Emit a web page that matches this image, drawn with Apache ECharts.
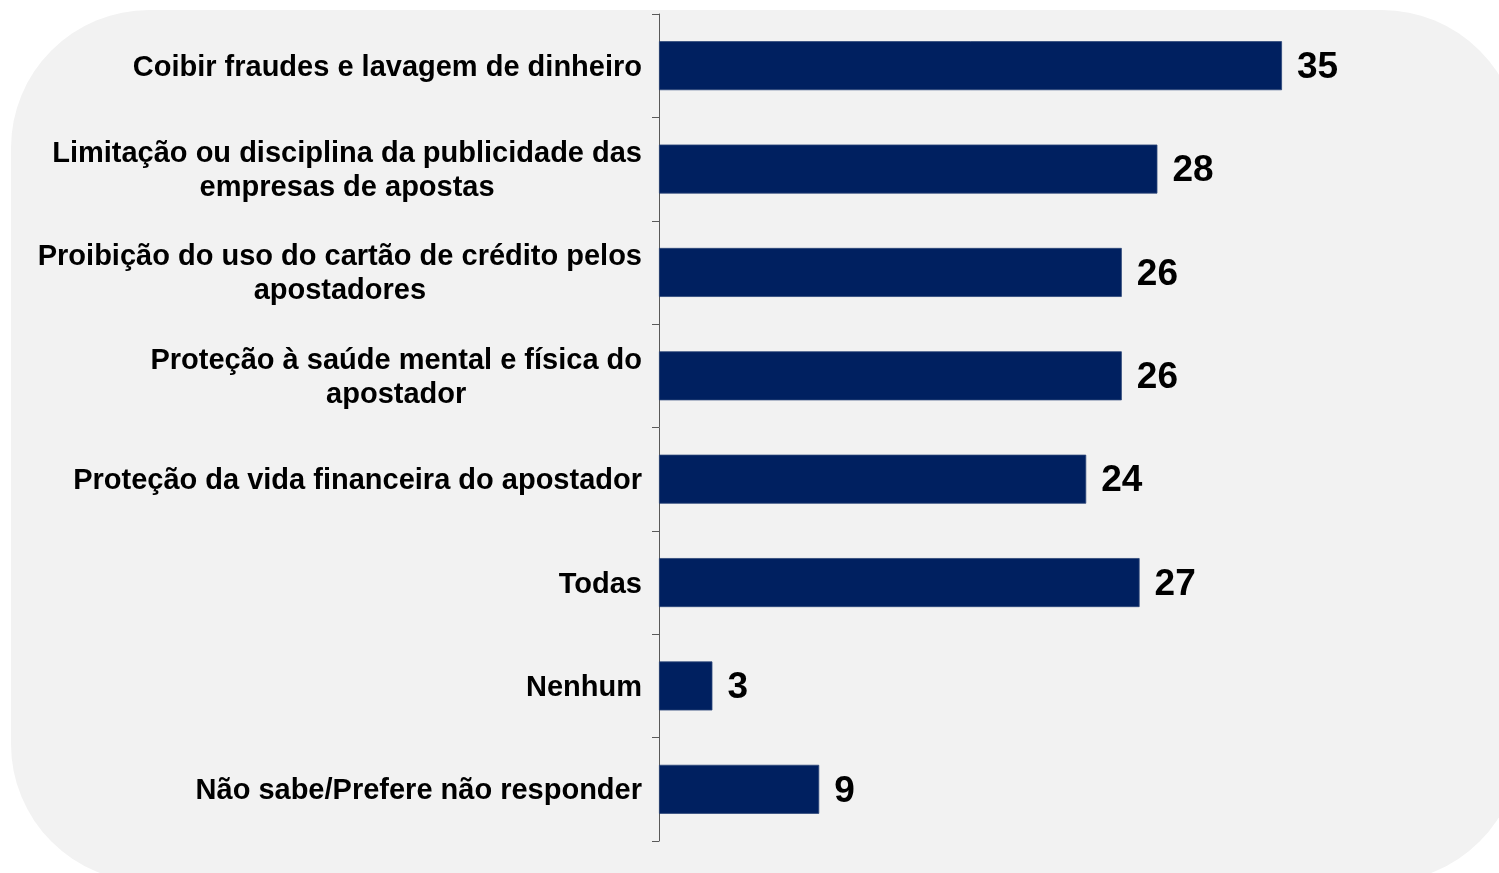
<!DOCTYPE html>
<html lang="pt-BR">
<head>
<meta charset="utf-8">
<title>Medidas de regulação das apostas</title>
<script src="https://cdn.jsdelivr.net/npm/echarts@6/dist/echarts.min.js"></script>
<style>
  html, body { margin: 0; padding: 0; background: #ffffff; }
  #chart { width: 1499px; height: 873px; }
</style>
</head>
<body>
<div id="chart"></div>
<script>
// Categories (top to bottom) and their percentages
const categories = [
  'Coibir fraudes e lavagem de dinheiro',
  'Limitação ou disciplina da publicidade das\nempresas de apostas',
  'Proibição do uso do cartão de crédito pelos\napostadores',
  'Proteção à saúde mental e física do\napostador',
  'Proteção da vida financeira do apostador',
  'Todas',
  'Nenhum',
  'Não sabe/Prefere não responder'
];
const values = [35, 28, 26, 26, 24, 27, 3, 9];

const FONT = '"Liberation Sans", Arial, Helvetica, sans-serif';
const chart = echarts.init(document.getElementById('chart'), null, { renderer: 'canvas' });

chart.setOption({
  animation: false,
  backgroundColor: '#ffffff',
  graphic: [{
    type: 'rect',
    z: -10,
    silent: true,
    shape: { x: 11, y: 10, width: 1509, height: 872, r: 138 },
    style: { fill: '#f2f2f2' }
  }],
  grid: { left: 659, right: 128, top: 14, bottom: 32, containLabel: false },
  xAxis: {
    type: 'value',
    min: 0,
    max: 40,
    show: false
  },
  yAxis: {
    type: 'category',
    inverse: true,
    data: categories,
    axisLine: { show: true, lineStyle: { color: '#595959', width: 1 } },
    axisTick: { show: true, inside: false, length: 7, lineStyle: { color: '#595959', width: 1 } },
    axisLabel: {
      margin: 17,
      padding: [4, 0, 0, 0],
      formatter: function (v) {
        // each line centred within the right-aligned label block
        return v.split('\n').map(function (s) { return '{c|' + s + '}'; }).join('\n');
      },
      rich: {
        c: {
          align: 'center',
          fontFamily: FONT,
          fontWeight: 'bold',
          fontSize: 29,
          lineHeight: 34,
          color: '#000000'
        }
      }
    },
    splitLine: { show: false }
  },
  series: [{
    type: 'bar',
    data: values,
    barWidth: 49,
    itemStyle: { color: '#002060', borderColor: '#2c4679', borderWidth: 0.8 },
    label: {
      show: true,
      position: 'right',
      distance: 15,
      offset: [0, 2],
      fontFamily: FONT,
      fontWeight: 'bold',
      fontSize: 37,
      color: '#000000'
    }
  }]
});
</script>
</body>
</html>
